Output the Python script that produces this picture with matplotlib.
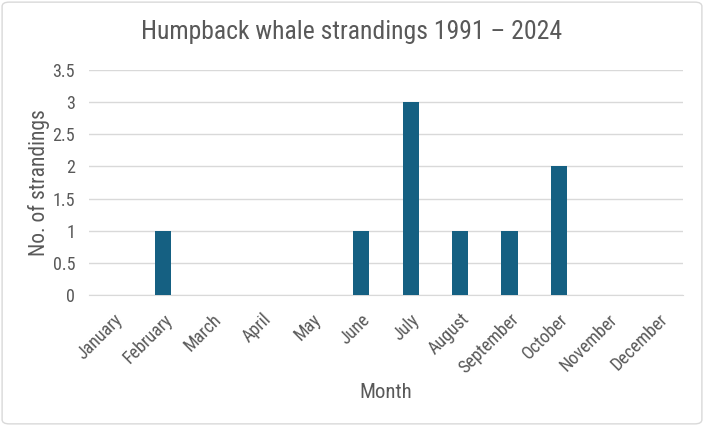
import matplotlib
matplotlib.use('Agg')
import matplotlib.pyplot as plt
from matplotlib.patches import FancyBboxPatch

plt.rcParams['font.family'] = ['Liberation Sans Narrow', 'Roboto Condensed', 'DejaVu Sans']
plt.rcParams['font.stretch'] = 'condensed'

months = ['January', 'February', 'March', 'April', 'May', 'June', 'July',
          'August', 'September', 'October', 'November', 'December']
strandings = [0, 1, 0, 0, 0, 1, 3, 1, 1, 2, 0, 0]
yticks = [0, 0.5, 1, 1.5, 2, 2.5, 3, 3.5]

text_col = '#595959'

fig = plt.figure(figsize=(7.04, 4.26), dpi=100)
ax = fig.add_axes([0.1264, 0.3075, 0.8436, 0.5282])

ax.bar(range(len(months)), strandings, width=0.33, color='#156082', zorder=3)
ax.set_xlim(-0.5, len(months) - 0.5)
ax.set_ylim(0, 3.5)
ax.set_yticks(yticks)
ax.set_yticklabels([f'{v:g}' for v in yticks])
ax.set_xticks(range(len(months)))
ax.set_xticklabels(months, rotation=45, ha='right', rotation_mode='anchor')
ax.grid(axis='y', color='#d9d9d9', linewidth=1, zorder=0)
for s in ['top', 'right', 'left']:
    ax.spines[s].set_visible(False)
ax.spines['bottom'].set_color('#d9d9d9')
ax.tick_params(length=0, colors=text_col, labelsize=13)
ax.tick_params(axis='x', pad=11)
ax.tick_params(axis='y', pad=10)

fig.text(0.5, 0.925, 'Humpback whale strandings 1991 \u2013 2024', fontsize=18.5,
         color=text_col, ha='center', va='center')
ax.set_ylabel('No. of strandings', fontsize=15.5, color=text_col, labelpad=2)
ax.set_xlabel('Month', fontsize=15, color=text_col, labelpad=4)

border = FancyBboxPatch((0.003, 0.005), 0.994, 0.99, boxstyle='round,pad=0,rounding_size=0.01',
                        transform=fig.transFigure, fill=False, edgecolor='#d9d9d9', linewidth=1)
fig.patches.append(border)

fig.savefig('out.png', dpi=100)
